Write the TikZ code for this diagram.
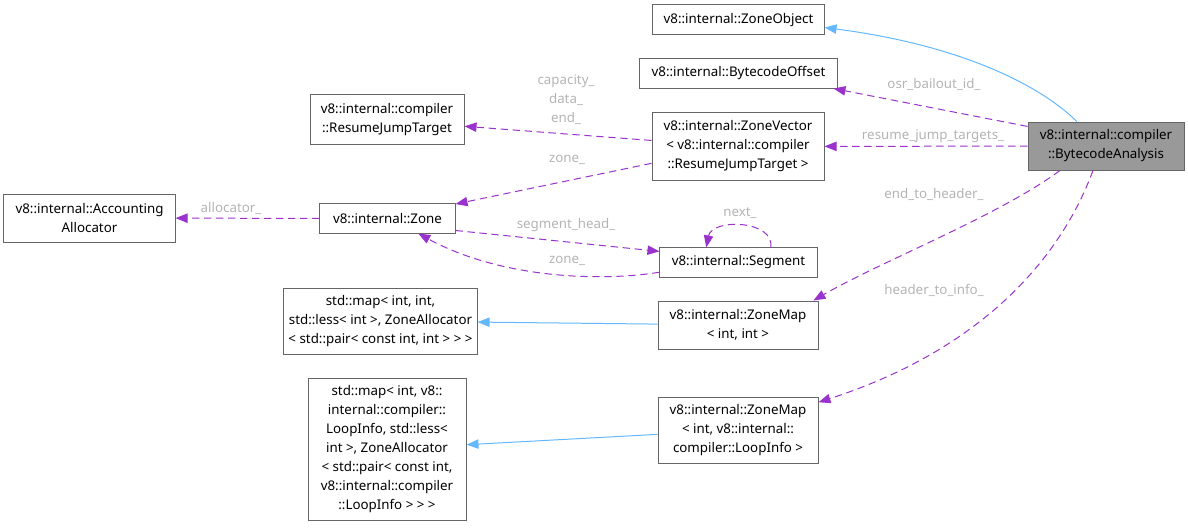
\documentclass[tikz,border=0pt]{standalone}
\usepackage{fontspec}
\setmainfont{Noto Sans}
\usetikzlibrary{arrows.meta,calc}
\definecolor{edgepurple}{HTML}{9A32CD}
\definecolor{edgeblue}{HTML}{63B8FF}
\definecolor{boxline}{HTML}{666666}
\definecolor{boxgrey}{HTML}{999999}
\definecolor{lblgrey}{HTML}{B4B4B4}
\tikzset{
  fig/.style={font=\fontsize{10}{14.25}\selectfont,x=0.75pt,y=-0.75pt},
  cls/.style={draw=boxline,fill=white,line width=0.75pt,align=center,inner sep=0pt},
  mainbox/.style={cls,fill=boxgrey},
  usage/.style={-{Triangle[length=9pt,width=7pt]},draw=edgepurple,line width=0.75pt,
                dash pattern=on 5.5pt off 3.5pt},
  inherit/.style={-{Triangle[length=9pt,width=7pt]},draw=edgeblue,line width=0.75pt},
  lbl/.style={text=lblgrey,inner sep=1pt,align=center},
}

\begin{document}
\begin{tikzpicture}[fig]
\useasboundingbox (0,0) rectangle (1188,528);

% --- classes ------------------------------------------------------------
\node[mainbox,minimum width=117pt,minimum height=36pt] (ba) at (1106,146)
      {v8::internal::compiler\\::BytecodeAnalysis};
\node[cls,minimum width=128.3pt,minimum height=22.5pt] (zo) at (738.5,20)
      {v8::internal::ZoneObject};
\node[cls,minimum width=147.8pt,minimum height=21.8pt] (bo) at (738.5,73.5)
      {v8::internal::BytecodeOffset};
\node[cls,minimum width=129pt,minimum height=50.3pt] (zv) at (738,146.5)
      {v8::internal::ZoneVector\\< v8::internal::compiler\\::ResumeJumpTarget >};
\node[cls,minimum width=115.5pt,minimum height=36.8pt] (rjt) at (387,119.5)
      {v8::internal::compiler\\::ResumeJumpTarget};
\node[cls,minimum width=128.3pt,minimum height=36pt] (aa) at (89.5,218)
      {v8::internal::Accounting\\Allocator};
\node[cls,minimum width=101.3pt,minimum height=21.8pt] (zone) at (387.5,218.5)
      {v8::internal::Zone};
\node[cls,minimum width=117.8pt,minimum height=21.8pt] (seg) at (738.5,262.5)
      {v8::internal::Segment};
\node[cls,minimum width=144.8pt,minimum height=49.5pt] (map1) at (380.5,321)
      {std::map< int, int,\\std::less< int >, ZoneAllocator\\< std::pair< const int, int > > >};
\node[cls,minimum width=120pt,minimum height=36pt] (zm1) at (738,325)
      {v8::internal::ZoneMap\\< int, int >};
\node[cls,minimum width=118.5pt,minimum height=106.5pt] (map2) at (387,449)
      {std::map< int, v8::\\internal::compiler::\\LoopInfo, std::less<\\int >, ZoneAllocator\\< std::pair< const int,\\v8::internal::compiler\\::LoopInfo > > >};
\node[cls,minimum width=120pt,minimum height=49.5pt] (zm2) at (738,430)
      {v8::internal::ZoneMap\\< int, v8::internal::\\compiler::LoopInfo >};

% --- inheritance ----------------------------------------------------------
\draw[inherit] (ba.140) .. controls (1040,85) and (960,45) .. (zo.-5);
\draw[inherit] (zm1) -- (map1);
\draw[inherit] (zm2) -- (map2);

% --- members ------------------------------------------------------------
\draw[usage] (ba.166) -- (bo.-9);
\draw[usage] (ba) -- (zv);
\draw[usage] (ba.-152) .. controls (1000,215) and (880,262) .. (zm1.18);
\draw[usage] (ba.-118) .. controls (1060,260) and (980,350) .. (zm2.19);
\draw[usage] (zv.176) -- (rjt.-5);
\draw[usage] (zv.191) -- (zone.12);
\draw[usage] (zone) -- (aa);
\draw[usage] (zone.-10) -- (seg.172);
\draw[usage] (seg.187) .. controls (600,282) and (500,278) .. (zone.-26);
\draw[usage] (seg.25) .. controls (775,220) and (712,218) .. (seg.155);

% --- member names ---------------------------------------------------------
\node[lbl] (l-osr)  at (934,84)  {osr\_bailout\_id\_};
\node[lbl] (l-rjt)  at (933,136) {resume\_jump\_targets\_};
\node[lbl] (l-eth)  at (934,194) {end\_to\_header\_};
\node[lbl] (l-hti)  at (934,290) {header\_to\_info\_};
\node[lbl] (l-cde)  at (566,100) {capacity\_\\data\_\\end\_};
\node[lbl] (l-zv)   at (567,160) {zone\_};
\node[lbl] (l-all)  at (231,208) {allocator\_};
\node[lbl] (l-sgh)  at (566,225) {segment\_head\_};
\node[lbl] (l-zsg)  at (567,261) {zone\_};
\node[lbl] (l-next) at (740,213) {next\_};

\end{tikzpicture}
\end{document}
